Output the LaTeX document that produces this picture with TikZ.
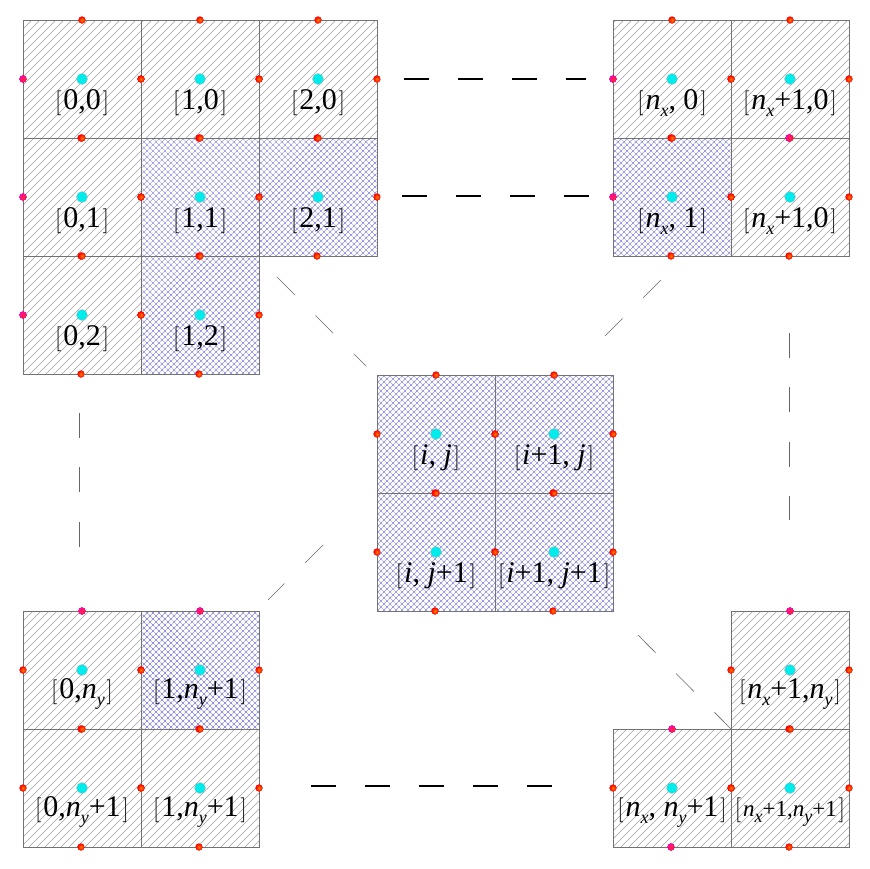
\documentclass[tikz,border=0pt]{standalone}
\usepackage{fontspec}
\setmainfont{Liberation Serif}
\usetikzlibrary{positioning,patterns.meta}

\newcommand{\lb}{$\big[$\kern2pt}
\newcommand{\rb}{\kern2pt$\big]$}
\newcommand{\ii}{\textit{i}}
\newcommand{\jj}{\textit{j}}
\newcommand{\nx}{\textit{n}\raisebox{-0.5ex}{\fontsize{18}{18}\selectfont\textit{x}}}
\newcommand{\ny}{\textit{n}\raisebox{-0.5ex}{\fontsize{18}{18}\selectfont\textit{y}}}

\definecolor{hatchgray}{RGB}{160,160,160}
\definecolor{crossblue}{RGB}{125,125,210}
\definecolor{cellcyan}{RGB}{0,235,235}

\tikzset{
  hatchcell/.style={draw=black!55, line width=0.7pt, minimum size=118pt, inner sep=0pt, outer sep=0pt,
    pattern={Lines[angle=45,distance=5.657pt,line width=0.5pt]}, pattern color=hatchgray},
  crosscell/.style={draw=black!55, line width=0.7pt, minimum size=118pt, inner sep=0pt, outer sep=0pt,
    pattern={Hatch[angle=45,distance=4.243pt,line width=0.4pt]}, pattern color=crossblue},
  centerdot/.style={circle, fill=cellcyan, draw=black!30, line width=0.3pt, minimum size=11pt, inner sep=0pt},
  facedot/.style={circle, inner color=orange, outer color=red, draw=red, line width=0.2pt, minimum size=7pt, inner sep=0pt},
  pinkdot/.style={circle, inner color=red!60!orange, outer color=magenta!80!red, draw=magenta!80!red, line width=0.2pt, minimum size=7pt, inner sep=0pt},
  celltext/.style={font=\fontsize{30}{30}\selectfont, inner sep=0pt},
  boldgap/.style={line width=1.5pt, dash pattern=on 25pt off 29pt},
  thingap/.style={draw=black!60, line width=0.6pt, dash pattern=on 25pt off 29.4pt},
}

\begin{document}
\begin{tikzpicture}[x=1pt,y=-1pt,node distance=0pt]
    \useasboundingbox (0,0) rectangle (870,868);

    % top left
    \node[hatchcell] (c00) at (82,79)       {};
    \node[hatchcell] (c10) [right=of c00]   {};
    \node[hatchcell] (c20) [right=of c10]   {};
    \node[hatchcell] (c01) [below=of c00]   {};
    \node[crosscell] (c11) [right=of c01]   {};
    \node[crosscell] (c21) [right=of c11]   {};
    \node[hatchcell] (c02) [below=of c01]   {};
    \node[crosscell] (c12) [right=of c02]   {};

    % top right
    \node[hatchcell] (d00) at (672,79)      {};
    \node[hatchcell] (d10) [right=of d00]   {};
    \node[crosscell] (d01) [below=of d00]   {};
    \node[hatchcell] (d11) [below=of d10]   {};

    % middle
    \node[crosscell] (m00) at (436,434)     {};
    \node[crosscell] (m10) [right=of m00]   {};
    \node[crosscell] (m01) [below=of m00]   {};
    \node[crosscell] (m11) [right=of m01]   {};

    % bottom left
    \node[hatchcell] (e00) at (82,670)      {};
    \node[crosscell] (e10) [right=of e00]   {};
    \node[hatchcell] (e01) [below=of e00]   {};
    \node[hatchcell] (e11) [right=of e01]   {};

    % bottom right
    \node[hatchcell] (f10) at (790,670)     {};
    \node[hatchcell] (f11) [below=of f10]   {};
    \node[hatchcell] (f01) [left=of f11]    {};

    % dots and labels of every cell
    \foreach \c/\t in {
        c00/{\lb 0,0\rb}, c10/{\lb 1,0\rb}, c20/{\lb 2,0\rb},
        c01/{\lb 0,1\rb}, c11/{\lb 1,1\rb}, c21/{\lb 2,1\rb},
        c02/{\lb 0,2\rb}, c12/{\lb 1,2\rb},
        d00/{\lb\nx, 0\rb}, d10/{\lb\nx+1,0\rb},
        d01/{\lb\nx, 1\rb}, d11/{\lb\nx+1,0\rb},
        m00/{\lb\ii, \jj\rb}, m10/{\lb\ii+1, \jj\rb},
        m01/{\lb\ii, \jj+1\rb}, m11/{\lb\ii+1, \jj+1\rb},
        e00/{\lb0,\ny\rb}, e10/{\lb1,\ny+1\rb},
        e01/{\lb0,\ny+1\rb}, e11/{\lb1,\ny+1\rb},
        f10/{\lb\nx+1,\ny\rb}, f01/{\lb\nx, \ny+1\rb}
    }{
        \node[centerdot] (\c-o) at (\c) {};
        \node[celltext]  (\c-t) at ([yshift=-24pt]\c.center) {\t};
        \node[facedot]   (\c-n) at (\c.north) {};
        \node[facedot]   (\c-w) at (\c.west)  {};
        \node[facedot]   (\c-e) at (\c.east)  {};
        \node[facedot]   (\c-s) at ([xshift=-1pt]\c.south) {};
    }

    % the last cell has a smaller label
    \node[centerdot] (f11-o) at (f11) {};
    \node[celltext, font=\fontsize{23}{23}\selectfont] (f11-t) at ([yshift=-24pt]f11.center) {\lb\nx+1,\ny+1\rb};
    \node[facedot] (f11-n) at (f11.north) {};
    \node[facedot] (f11-w) at (f11.west)  {};
    \node[facedot] (f11-e) at (f11.east)  {};
    \node[facedot] (f11-s) at ([xshift=-1pt]f11.south) {};

    % pink ones
    \foreach \p in {c00-w,c01-w,c02-w,d00-w,d01-w,e00-n,f10-n,f01-n,f01-s,d10-s,e10-n}
        \node[pinkdot] (\p-p) at (\p) {};

    % free ends of the gaps
    \coordinate (a1) at (404,79);  \coordinate (a2) at (586,79);
    \coordinate (b1) at (402,196); \coordinate (b2) at (590,196);
    \coordinate (g1) at (311,786); \coordinate (g2) at (553,786);
    \coordinate (v1) at (79,413);  \coordinate (v2) at (79,547);
    \coordinate (w1) at (789,333); \coordinate (w2) at (789,520);
    \coordinate (p1) at (277,277); \coordinate (p2) at (366,366);
    \coordinate (q1) at (661,280); \coordinate (q2) at (605,336);
    \coordinate (r1) at (323,545); \coordinate (r2) at (268,600);
    \coordinate (s1) at (638,635); \coordinate (s2) at (731,729);

    \draw[boldgap] (a1) -- (a2);
    \draw[boldgap] (b1) -- (b2);
    \draw[boldgap] (g1) -- (g2);
    \draw[thingap] (v1) -- (v2);
    \draw[thingap] (w1) -- (w2);
    \draw[thingap] (p1) -- (p2);
    \draw[thingap] (q1) -- (q2);
    \draw[thingap] (r1) -- (r2);
    \draw[thingap] (s1) -- (s2);
\end{tikzpicture}
\end{document}
